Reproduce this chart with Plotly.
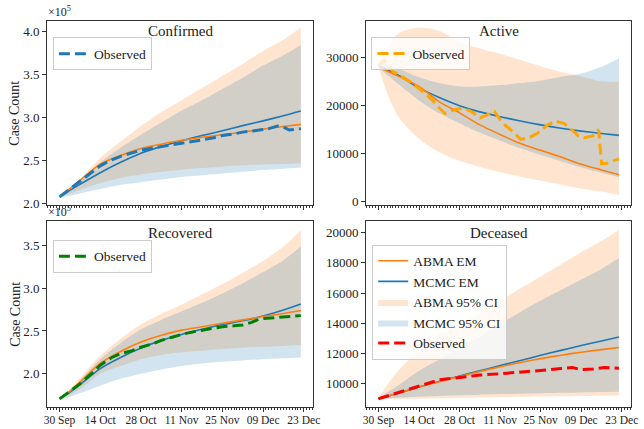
import plotly.graph_objects as go

# ---------------- data ----------------
model_dates = ["2020-09-30", "2020-10-03", "2020-10-07", "2020-10-14", "2020-10-21",
               "2020-10-28", "2020-11-04", "2020-11-11", "2020-11-18", "2020-11-25",
               "2020-12-02", "2020-12-09", "2020-12-16", "2020-12-22"]

# Confirmed
conf_abma_em = [208000, 216000, 227000, 246000, 256000, 264000, 269000, 273500, 277000, 280000, 283000, 286500, 289500, 292000]
conf_mcmc_em = [208000, 214500, 222500, 236000, 248000, 258500, 266500, 273000, 279000, 284500, 290500, 296000, 302000, 307500]
conf_abma_lo = [208000, 211000, 216000, 224000, 230000, 234000, 237000, 239500, 241500, 243000, 244500, 245500, 246000, 247000]
conf_abma_hi = [208000, 215000, 228000, 253000, 272000, 290000, 306000, 320000, 334000, 348000, 362000, 377000, 390000, 404000]
conf_mcmc_lo = [208000, 209000, 212000, 217000, 222000, 225000, 228000, 231000, 233000, 235000, 237000, 239000, 240500, 242000]
conf_mcmc_hi = [208000, 214000, 225000, 248000, 265000, 280000, 294000, 308000, 320000, 333000, 346000, 360000, 372000, 384000]
conf_obs_dates = ["2020-09-30", "2020-10-04", "2020-10-07", "2020-10-11", "2020-10-14", "2020-10-18",
                  "2020-10-21", "2020-10-25", "2020-10-28", "2020-11-01", "2020-11-04", "2020-11-08",
                  "2020-11-11", "2020-11-15", "2020-11-18", "2020-11-22", "2020-11-25", "2020-11-29",
                  "2020-12-02", "2020-12-06", "2020-12-09", "2020-12-11", "2020-12-14", "2020-12-16",
                  "2020-12-18", "2020-12-22"]
conf_obs = [208000, 218000, 226000, 236000, 244000, 251000, 255000, 259000, 262000, 264500, 266500, 268500,
            270000, 272000, 274000, 276500, 279000, 281000, 283000, 284500, 286000, 287000, 290000, 289000,
            285500, 287000]

# Active
act_abma_em = [28000, 27100, 26000, 23900, 20700, 18400, 15900, 13900, 12000, 10600, 9200, 7700, 6500, 5500]
act_mcmc_em = [28300, 27400, 26200, 23600, 21600, 19900, 18600, 17600, 16700, 15900, 15200, 14600, 14100, 13700]
act_abma_lo = [28000, 22500, 17500, 13000, 10200, 8400, 7100, 6000, 5100, 4300, 3400, 2600, 2000, 1300]
act_abma_hi = [28300, 32000, 35000, 36200, 35500, 33200, 31800, 30700, 29400, 28100, 26900, 26000, 25000, 24900]
act_mcmc_lo = [27800, 26300, 24300, 21000, 18300, 16200, 14300, 12600, 11000, 9600, 8300, 7000, 5900, 5000]
act_mcmc_hi = [29000, 28500, 27600, 25800, 24600, 23900, 23900, 24200, 24600, 25100, 25900, 26600, 28000, 29800]
act_obs_dates = ["2020-09-30", "2020-10-02", "2020-10-05", "2020-10-07", "2020-10-11", "2020-10-14",
                 "2020-10-17", "2020-10-19", "2020-10-21", "2020-10-23", "2020-10-26", "2020-10-29",
                 "2020-11-01", "2020-11-04", "2020-11-09", "2020-11-11", "2020-11-13", "2020-11-16",
                 "2020-11-18", "2020-11-21", "2020-11-24", "2020-11-27", "2020-11-30", "2020-12-03",
                 "2020-12-05", "2020-12-08", "2020-12-10", "2020-12-13", "2020-12-15", "2020-12-16",
                 "2020-12-18", "2020-12-20", "2020-12-22"]
act_obs = [28300, 29400, 27000, 26400, 24900, 23500, 22000, 20800, 19400, 18300, 19000, 19400,
           18700, 17300, 18700, 17000, 15700, 14200, 12900, 13200, 14200, 15700, 16700, 16200,
           15300, 13600, 13200, 13600, 14900, 7800, 7900, 8400, 8800]

# Recovered
rec_abma_em = [170500, 178000, 190000, 212000, 226000, 237000, 245000, 251000, 255000, 259000, 263000, 267000, 270500, 274000]
rec_mcmc_em = [170500, 177000, 187000, 206000, 219000, 230000, 239000, 246000, 252000, 257500, 262000, 267500, 274500, 281500]
rec_abma_lo = [170500, 174000, 182000, 200000, 209000, 217000, 222000, 225000, 227000, 229000, 230500, 231500, 232500, 233500]
rec_abma_hi = [170500, 180000, 195000, 221000, 241000, 258000, 270000, 281000, 293000, 305000, 318000, 332000, 349000, 368000]
rec_mcmc_lo = [170500, 172000, 177000, 186000, 194000, 200000, 205000, 209000, 212000, 214000, 215500, 217000, 218000, 219000]
rec_mcmc_hi = [170500, 178000, 192000, 217000, 236000, 252000, 263000, 273000, 283000, 294000, 306000, 319000, 333000, 349000]
rec_obs_dates = ["2020-09-30", "2020-10-04", "2020-10-07", "2020-10-11", "2020-10-14", "2020-10-18",
                 "2020-10-21", "2020-10-25", "2020-10-28", "2020-11-01", "2020-11-04", "2020-11-08",
                 "2020-11-11", "2020-11-15", "2020-11-18", "2020-11-22", "2020-11-25", "2020-11-29",
                 "2020-12-02", "2020-12-05", "2020-12-07", "2020-12-09", "2020-12-13", "2020-12-16",
                 "2020-12-19", "2020-12-22"]
rec_obs = [170500, 180000, 188000, 200000, 210000, 219000, 223500, 227000, 231000, 235000, 239000, 243000,
           246000, 249000, 251000, 253500, 255000, 256000, 257000, 260000, 263000, 264500, 265500, 266000,
           266500, 268000]

# Deceased
dec_abma_em = [8990, 9150, 9370, 9770, 10120, 10470, 10800, 11110, 11390, 11650, 11880, 12080, 12250, 12390]
dec_mcmc_em = [8990, 9150, 9370, 9780, 10140, 10500, 10850, 11190, 11530, 11870, 12200, 12520, 12820, 13090]
dec_abma_lo = [8990, 8990, 8995, 9000, 9020, 9050, 9075, 9100, 9120, 9140, 9160, 9180, 9200, 9215]
dec_abma_hi = [8990, 9900, 10900, 12200, 13200, 13900, 14700, 15500, 16300, 17100, 17900, 18700, 19450, 20180]
dec_mcmc_lo = [8990, 9020, 9060, 9120, 9170, 9220, 9260, 9300, 9330, 9360, 9385, 9410, 9435, 9455]
dec_mcmc_hi = [8990, 9400, 9900, 10850, 11600, 12350, 13100, 13950, 14750, 15500, 16200, 16900, 17600, 18320]
dec_obs_dates = ["2020-09-30", "2020-10-07", "2020-10-14", "2020-10-21", "2020-10-28", "2020-11-04",
                 "2020-11-11", "2020-11-18", "2020-11-25", "2020-12-02", "2020-12-06", "2020-12-09",
                 "2020-12-13", "2020-12-17", "2020-12-22"]
dec_obs = [8990, 9420, 9850, 10250, 10400, 10560, 10650, 10740, 10870, 11000, 11060, 10920,
           10960, 11070, 11020]

x_tick_dates = ["2020-09-30", "2020-10-14", "2020-10-28", "2020-11-11", "2020-11-25", "2020-12-09", "2020-12-23"]
x_tick_labels = ["30 Sep", "14 Oct", "28 Oct", "11 Nov", "25 Nov", "09 Dec", "23 Dec"]
conf_yticks = [2.0, 2.5, 3.0, 3.5, 4.0]
act_yticks = [0, 10000, 20000, 30000]
rec_yticks = [2.0, 2.5, 3.0, 3.5]
dec_yticks = [10000, 12000, 14000, 16000, 18000, 20000]
panel_titles = ["Confirmed", "Active", "Recovered", "Deceased"]

# ---------------- style ----------------
W, H = 644, 429
FONT = "Liberation Serif"
C_ABMA = "#ff7f0e"
C_MCMC = "#1f77b4"
F_ABMA = "rgba(255,127,14,0.2)"
F_MCMC = "rgba(31,119,180,0.2)"
AXC = "#333333"
SCALE = 1e5


def px(x):
    return x / W


def py(y):
    return 1 - y / H


panels = [
    dict(name="Confirmed", xa="x", ya="y", leg="legend", scale=SCALE, obs_color=C_MCMC,
         abma_em=conf_abma_em, mcmc_em=conf_mcmc_em, abma_lo=conf_abma_lo, abma_hi=conf_abma_hi,
         mcmc_lo=conf_mcmc_lo, mcmc_hi=conf_mcmc_hi, obs_dates=conf_obs_dates, obs=conf_obs),
    dict(name="Active", xa="x2", ya="y2", leg="legend2", scale=1, obs_color="#FFA500",
         abma_em=act_abma_em, mcmc_em=act_mcmc_em, abma_lo=act_abma_lo, abma_hi=act_abma_hi,
         mcmc_lo=act_mcmc_lo, mcmc_hi=act_mcmc_hi, obs_dates=act_obs_dates, obs=act_obs),
    dict(name="Recovered", xa="x3", ya="y3", leg="legend3", scale=SCALE, obs_color="#008000",
         abma_em=rec_abma_em, mcmc_em=rec_mcmc_em, abma_lo=rec_abma_lo, abma_hi=rec_abma_hi,
         mcmc_lo=rec_mcmc_lo, mcmc_hi=rec_mcmc_hi, obs_dates=rec_obs_dates, obs=rec_obs),
    dict(name="Deceased", xa="x4", ya="y4", leg="legend4", scale=1, obs_color="#FF0000",
         abma_em=dec_abma_em, mcmc_em=dec_mcmc_em, abma_lo=dec_abma_lo, abma_hi=dec_abma_hi,
         mcmc_lo=dec_mcmc_lo, mcmc_hi=dec_mcmc_hi, obs_dates=dec_obs_dates, obs=dec_obs),
]

fig = go.Figure()
for p in panels:
    s = p["scale"]
    full = p["leg"] == "legend4"
    common = dict(xaxis=p["xa"], yaxis=p["ya"], legend=p["leg"], hoverinfo="skip")
    sc = lambda arr: [v / s for v in arr]
    # ABMA band
    fig.add_trace(go.Scatter(x=model_dates, y=sc(p["abma_lo"]), mode="lines",
                             line=dict(width=0, shape="spline", smoothing=0.8),
                             showlegend=False, **common))
    fig.add_trace(go.Scatter(x=model_dates, y=sc(p["abma_hi"]), mode="lines", fill="tonexty",
                             fillcolor=F_ABMA, line=dict(width=0, shape="spline", smoothing=0.8),
                             name="ABMA 95% CI", showlegend=full, legendrank=3, **common))
    # MCMC band
    fig.add_trace(go.Scatter(x=model_dates, y=sc(p["mcmc_lo"]), mode="lines",
                             line=dict(width=0, shape="spline", smoothing=0.8),
                             showlegend=False, **common))
    fig.add_trace(go.Scatter(x=model_dates, y=sc(p["mcmc_hi"]), mode="lines", fill="tonexty",
                             fillcolor=F_MCMC, line=dict(width=0, shape="spline", smoothing=0.8),
                             name="MCMC 95% CI", showlegend=full, legendrank=4, **common))
    # EM lines
    fig.add_trace(go.Scatter(x=model_dates, y=sc(p["mcmc_em"]), mode="lines",
                             line=dict(color=C_MCMC, width=1.6, shape="spline", smoothing=0.8),
                             name="MCMC EM", showlegend=full, legendrank=2, **common))
    fig.add_trace(go.Scatter(x=model_dates, y=sc(p["abma_em"]), mode="lines",
                             line=dict(color=C_ABMA, width=1.6, shape="spline", smoothing=0.8),
                             name="ABMA EM", showlegend=full, legendrank=1, **common))
    # Observed
    fig.add_trace(go.Scatter(x=p["obs_dates"], y=sc(p["obs"]), mode="lines",
                             line=dict(color=p["obs_color"], width=3, dash="11px,5px"),
                             name="Observed", showlegend=True, legendrank=5, **common))

xrange = ["2020-09-25 19:00", "2020-12-26 05:00"]
left_dom = [px(45), px(315)]
right_dom = [px(369), px(638)]
top_dom = [py(208), py(21)]
bot_dom = [py(413), py(224)]


def xaxis(dom, anchor, labels):
    return dict(domain=dom, anchor=anchor, type="date", range=xrange,
                tickmode="array", tickvals=x_tick_dates, ticktext=x_tick_labels,
                showticklabels=labels, ticks="outside", ticklen=4, tickwidth=1, tickcolor=AXC,
                tickfont=dict(family=FONT, size=11.5, color="#222"), ticklabelstandoff=-2,
                minor=dict(tickmode="linear", tick0="2020-09-30", dtick=86400000,
                           ticks="outside", ticklen=2, tickwidth=1, tickcolor=AXC),
                showline=True, linecolor=AXC, linewidth=1.2, mirror=True,
                showgrid=False, zeroline=False)


def yaxis(dom, anchor, rng, ticks, fmt):
    return dict(domain=dom, anchor=anchor, range=rng, tickmode="array", tickvals=ticks,
                ticktext=[fmt.format(t) for t in ticks],
                ticks="outside", ticklen=4, tickwidth=1, tickcolor=AXC,
                tickfont=dict(family=FONT, size=13, color="#222"),
                showline=True, linecolor=AXC, linewidth=1.2, mirror=True,
                showgrid=False, zeroline=False)


leg_common = dict(xanchor="left", yanchor="top", bgcolor="rgba(255,255,255,0.8)",
                  bordercolor="#cccccc", borderwidth=1, traceorder="normal",
                  font=dict(family=FONT, size=13.5, color="#222"), itemwidth=30)

annotations = []
title_pos = [((45 + 315) / 2, 31), ((369 + 638) / 2, 31), ((45 + 315) / 2, 236), ((369 + 638) / 2, 236)]
for t, (cx, cy) in zip(panel_titles, title_pos):
    annotations.append(dict(text=t, x=px(cx), y=py(cy), xref="paper", yref="paper",
                            xanchor="center", yanchor="middle", showarrow=False,
                            font=dict(family=FONT, size=15, color="#222")))
for cy in [(21 + 208) / 2, (224 + 413) / 2]:
    annotations.append(dict(text="Case Count", x=px(12), y=py(cy), xref="paper", yref="paper",
                            xanchor="center", yanchor="middle", textangle=-90, showarrow=False,
                            font=dict(family=FONT, size=14, color="#222")))
for ty in [21, 224]:
    annotations.append(dict(text="×10<sup>5</sup>", x=px(44), y=py(ty), xref="paper", yref="paper",
                            xanchor="left", yanchor="bottom", showarrow=False,
                            font=dict(family=FONT, size=12, color="#222")))

fig.update_layout(
    width=W, height=H, margin=dict(l=0, r=0, t=0, b=0),
    paper_bgcolor="white", plot_bgcolor="white",
    font=dict(family=FONT, color="#222"),
    xaxis=xaxis(left_dom, "y", False),
    yaxis=yaxis(top_dom, "x", [1.985, 4.12], conf_yticks, "{:.1f}"),
    xaxis2=xaxis(right_dom, "y2", False),
    yaxis2=yaxis(top_dom, "x2", [-820, 37600], act_yticks, "{:d}"),
    xaxis3=xaxis(left_dom, "y3", True),
    yaxis3=yaxis(bot_dom, "x3", [1.607, 3.79], rec_yticks, "{:.1f}"),
    xaxis4=xaxis(right_dom, "y4", True),
    yaxis4=yaxis(bot_dom, "x4", [8431, 20784], dec_yticks, "{:d}"),
    legend=dict(x=px(50.7), y=py(38), **leg_common),
    legend2=dict(x=px(374.3), y=py(37.7), **leg_common),
    legend3=dict(x=px(50.7), y=py(243.3), **leg_common),
    legend4=dict(x=px(375), y=py(248), **leg_common),
    annotations=annotations,
    showlegend=True,
)

fig.write_html("out.html", config={"displayModeBar": False},
               post_script="document.body.style.margin='0px';document.body.style.overflow='hidden';")
